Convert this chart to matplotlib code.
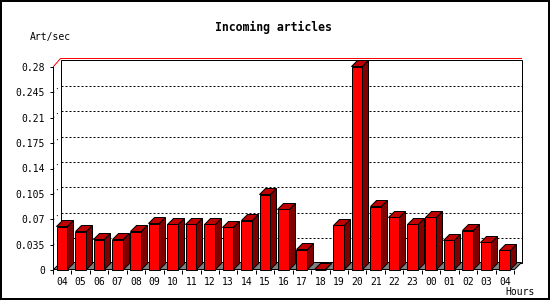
import matplotlib
matplotlib.use("Agg")
import matplotlib.pyplot as plt
from matplotlib.patches import Polygon, Rectangle
from matplotlib.lines import Line2D
import matplotlib.transforms as mtransforms
import numpy as np

# ---- data ----
hours = ["04", "05", "06", "07", "08", "09", "10", "11", "12", "13", "14", "15",
         "16", "17", "18", "19", "20", "21", "22", "23", "00", "01", "02", "03", "04"]
rates = [0.060, 0.053, 0.042, 0.042, 0.053, 0.064, 0.063, 0.063, 0.063, 0.059,
         0.068, 0.104, 0.084, 0.028, 0.0, 0.062, 0.28, 0.087, 0.073, 0.063,
         0.073, 0.041, 0.054, 0.038, 0.027]
yticks = [0, 0.035, 0.07, 0.105, 0.14, 0.175, 0.21, 0.245, 0.28]
ytick_labels = ["0", "0.035", "0.07", "0.105", "0.14", "0.175", "0.21", "0.245", "0.28"]
title = "Incoming articles"
ylabel = "Art/sec"
xlabel = "Hours"

DPI = 100
W, H = 550, 300
plt.rcParams['font.family'] = ['DejaVu Sans Mono']

fig = plt.figure(figsize=(W / DPI, H / DPI), dpi=DPI)
fig.patch.set_facecolor("white")
ax = fig.add_axes([53 / W, 30 / H, 461 / W, 203 / H])
n = len(hours)
ax.set_xlim(-0.5, n - 0.5)
ax.set_ylim(0, yticks[-1])
ax.patch.set_visible(False)
for s in ["top", "right", "bottom"]:
    ax.spines[s].set_visible(False)
ax.spines["left"].set_linewidth(0.72)
ax.spines["left"].set_zorder(6)

LW = 0.72
PD = 7   # depth of plane (px)
BD = 6   # depth of bars (px)
ident = mtransforms.IdentityTransform()


def disp(x, y, dx=0, dy=0):
    p = ax.transData.transform((x, y))
    return (np.floor(p[0]) + 0.5 + dx, np.floor(p[1]) + 0.5 + dy)


def line(pts, **kw):
    ax.add_line(Line2D([p[0] for p in pts], [p[1] for p in pts], transform=ident,
                       clip_on=False, **kw))


def poly(pts, **kw):
    ax.add_patch(Polygon(pts, closed=True, transform=ident, clip_on=False, **kw))


top_v = yticks[-1]
# back plane
poly([disp(-0.5, 0, PD, PD), disp(n - 0.5, 0, PD, PD), disp(n - 0.5, top_v, PD, PD),
      disp(-0.5, top_v, PD, PD)], fill=False, edgecolor="black", lw=LW, zorder=1)
# grid lines on back plane and left wall
for t in yticks[1:-1]:
    line([disp(-0.5, t, PD, PD), disp(n - 0.5, t, PD, PD)], color="black", lw=LW,
         linestyle=(0, (2, 2)), zorder=1)
    line([disp(-0.5, t), disp(-0.5, t, PD, PD)], color="black", lw=LW,
         linestyle=(0, (1, 4)), zorder=1)

# red top edge
line([disp(-0.5, top_v), disp(-0.5, top_v, PD, PD + 1), disp(n - 0.5, top_v, PD, PD + 1)],
     color="#ff0000", lw=LW, zorder=2)

# floor
poly([disp(-0.5, 0), disp(n - 0.5, 0), disp(n - 0.5, 0, PD, PD), disp(-0.5, 0, PD, PD)],
     facecolor="#808080", edgecolor="black", lw=LW, zorder=2)

# bars
bw = 0.6
x = np.arange(n)
ax.bar(x, rates, width=bw, color="#ff0000", edgecolor="black", lw=LW, zorder=4,
       clip_on=False)
for i, v in enumerate(rates):
    x0, x1 = i - bw / 2, i + bw / 2
    poly([disp(x0, v), disp(x1, v), disp(x1, v, BD, BD), disp(x0, v, BD, BD)],
         facecolor="#c00000", edgecolor="black", lw=LW, zorder=4)
    poly([disp(x1, 0), disp(x1, 0, BD, BD), disp(x1, v, BD, BD), disp(x1, v)],
         facecolor="#800000", edgecolor="black", lw=LW, zorder=4)

# ticks
ax.set_yticks(yticks, ytick_labels)
ax.tick_params(axis="y", length=2.2, width=LW, pad=3.6, labelsize=7)
ax.set_xticks(x, hours)
ax.tick_params(axis="x", which="major", length=0, pad=5, labelsize=7)
ax.set_xticks(np.arange(-0.5, n, 1), minor=True)
ax.tick_params(axis="x", which="minor", length=3, width=LW, direction="out")

# texts
fig.text(273 / W, 1 - 27 / H, title, ha="center", va="center", fontsize=8.3,
         fontweight="bold")
fig.text(30 / W, 1 - 37 / H, ylabel, ha="left", va="center", fontsize=7)
fig.text(505 / W, 1 - 292 / H, xlabel, ha="left", va="center", fontsize=7)

# outer border
fig.add_artist(Rectangle((0, 0), 1, 1, transform=fig.transFigure, fill=False,
                         lw=2.88, edgecolor="black"))

fig.savefig("out.png", dpi=DPI, facecolor="white")
